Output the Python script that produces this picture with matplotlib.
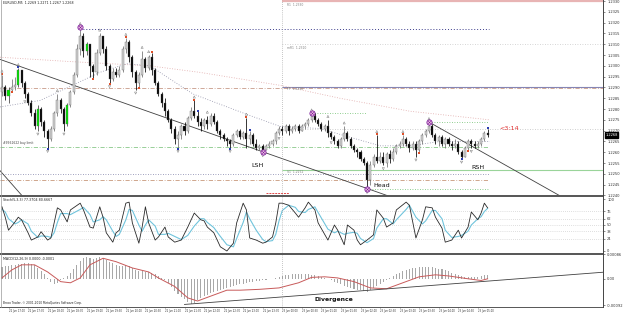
import numpy as np
import matplotlib.pyplot as plt
from matplotlib.lines import Line2D
from matplotlib.transforms import blended_transform_factory

# ---- EURUSD M5 candles ----
first_open = 1.2288
close = [1.2290, 1.2286, 1.2289, 1.2290, 1.2291, 1.2298, 1.2292, 1.2287, 1.2283, 1.2278,
         1.2272, 1.2280, 1.2274, 1.2270, 1.2266, 1.2271, 1.2278, 1.2284, 1.2280, 1.2273,
         1.2282, 1.2288, 1.2296, 1.2308, 1.2314, 1.2307, 1.2310, 1.2300, 1.2297, 1.2306,
         1.2314, 1.2308, 1.2300, 1.2294, 1.2297, 1.2296, 1.2298, 1.2308, 1.2311, 1.2304,
         1.2297, 1.2292, 1.2296, 1.2303, 1.2299, 1.2304, 1.2298, 1.2292, 1.2287, 1.2283,
         1.2279, 1.2275, 1.2271, 1.2266, 1.2268, 1.2272, 1.2270, 1.2276, 1.2279, 1.2277,
         1.2274, 1.2272, 1.2275, 1.2273, 1.2277, 1.2274, 1.2270, 1.2268, 1.2266, 1.2265,
         1.2264, 1.2268, 1.2270, 1.2267, 1.2269, 1.2266, 1.2268, 1.2264, 1.2262, 1.2263,
         1.2261, 1.2263, 1.2264, 1.2265, 1.2269, 1.2271, 1.2270, 1.2272, 1.2270, 1.2271,
         1.2272, 1.2270, 1.2272, 1.2273, 1.2275, 1.2277, 1.2275, 1.2273, 1.2271, 1.2272,
         1.2269, 1.2267, 1.2265, 1.2263, 1.2266, 1.2269, 1.2266, 1.2263, 1.2261, 1.2260,
         1.2257, 1.2255, 1.2247, 1.2254, 1.2258, 1.2256, 1.2258, 1.2255, 1.2259, 1.2257,
         1.2260, 1.2263, 1.2264, 1.2266, 1.2264, 1.2262, 1.2264, 1.2261, 1.2265, 1.2268,
         1.2270, 1.2272, 1.2268, 1.2265, 1.2267, 1.2264, 1.2266, 1.2264, 1.2263, 1.2264,
         1.2260, 1.2258, 1.2262, 1.2265, 1.2264, 1.2263, 1.2264, 1.2266, 1.2269, 1.2268]
high = [1.2296, 1.2291, 1.2290, 1.2294, 1.2295, 1.2299, 1.2298, 1.2293, 1.2288, 1.2284,
        1.2280, 1.2282, 1.2281, 1.2275, 1.2271, 1.2272, 1.2279, 1.2287, 1.2285, 1.2281,
        1.2283, 1.2289, 1.2297, 1.2310, 1.2318, 1.2315, 1.2311, 1.2310, 1.2301, 1.2308,
        1.2315, 1.2314, 1.2309, 1.2301, 1.2299, 1.2299, 1.2300, 1.2309, 1.2313, 1.2312,
        1.2305, 1.2298, 1.2297, 1.2307, 1.2304, 1.2305, 1.2306, 1.2299, 1.2293, 1.2288,
        1.2285, 1.2280, 1.2276, 1.2272, 1.2270, 1.2273, 1.2274, 1.2277, 1.2281, 1.2284,
        1.2279, 1.2276, 1.2276, 1.2277, 1.2278, 1.2278, 1.2275, 1.2271, 1.2269, 1.2267,
        1.2266, 1.2269, 1.2271, 1.2271, 1.2270, 1.2276, 1.2270, 1.2269, 1.2266, 1.2264,
        1.2264, 1.2264, 1.2265, 1.2266, 1.2270, 1.2272, 1.2272, 1.2273, 1.2273, 1.2272,
        1.2273, 1.2273, 1.2273, 1.2274, 1.2276, 1.2278, 1.2278, 1.2276, 1.2274, 1.2273,
        1.2275, 1.2270, 1.2268, 1.2266, 1.2267, 1.2272, 1.2270, 1.2267, 1.2264, 1.2262,
        1.2261, 1.2258, 1.2256, 1.2256, 1.2259, 1.2268, 1.2260, 1.2260, 1.2260, 1.2261,
        1.2262, 1.2264, 1.2265, 1.2268, 1.2267, 1.2265, 1.2265, 1.2265, 1.2266, 1.2269,
        1.2271, 1.2274, 1.2273, 1.2269, 1.2268, 1.2268, 1.2267, 1.2267, 1.2265, 1.2266,
        1.2265, 1.2261, 1.2263, 1.2266, 1.2266, 1.2265, 1.2265, 1.2267, 1.2270, 1.2271]
low = [1.2286, 1.2284, 1.2283, 1.2288, 1.2289, 1.2290, 1.2290, 1.2285, 1.2282, 1.2277,
       1.2271, 1.2270, 1.2272, 1.2267, 1.2262, 1.2265, 1.2270, 1.2277, 1.2278, 1.2270,
       1.2272, 1.2281, 1.2287, 1.2295, 1.2305, 1.2304, 1.2305, 1.2295, 1.2294, 1.2296,
       1.2305, 1.2306, 1.2298, 1.2292, 1.2293, 1.2295, 1.2295, 1.2297, 1.2306, 1.2302,
       1.2295, 1.2289, 1.2290, 1.2295, 1.2297, 1.2298, 1.2296, 1.2291, 1.2286, 1.2281,
       1.2277, 1.2274, 1.2269, 1.2264, 1.2262, 1.2266, 1.2268, 1.2269, 1.2275, 1.2276,
       1.2272, 1.2270, 1.2271, 1.2271, 1.2272, 1.2273, 1.2269, 1.2266, 1.2265, 1.2263,
       1.2262, 1.2263, 1.2267, 1.2266, 1.2266, 1.2262, 1.2264, 1.2263, 1.2261, 1.2261,
       1.2260, 1.2261, 1.2262, 1.2263, 1.2264, 1.2268, 1.2268, 1.2269, 1.2268, 1.2269,
       1.2270, 1.2269, 1.2270, 1.2271, 1.2272, 1.2274, 1.2274, 1.2272, 1.2270, 1.2270,
       1.2267, 1.2266, 1.2264, 1.2262, 1.2262, 1.2265, 1.2265, 1.2262, 1.2260, 1.2258,
       1.2256, 1.2254, 1.2243, 1.2245, 1.2253, 1.2255, 1.2255, 1.2254, 1.2253, 1.2255,
       1.2256, 1.2259, 1.2262, 1.2263, 1.2263, 1.2260, 1.2261, 1.2258, 1.2260, 1.2264,
       1.2267, 1.2269, 1.2267, 1.2264, 1.2263, 1.2263, 1.2262, 1.2263, 1.2261, 1.2262,
       1.2259, 1.2257, 1.2258, 1.2261, 1.2262, 1.2262, 1.2262, 1.2263, 1.2265, 1.2267]
green_bars = [2, 5, 11, 20, 26]

# zigzag turning points (purple circles)
zz_bars = [24, 80, 95, 112, 131]
zz_price = [1.2318, 1.2260, 1.2278, 1.2243, 1.2274]

# fractal arrows and coloured dots
frac_up = [0, 5, 17, 24, 30, 38, 43, 45, 59, 63, 75, 95, 100, 105, 115, 123, 131]
frac_dn = [7, 11, 14, 19, 33, 41, 54, 70, 80, 85, 101, 112, 117, 127, 141, 144]
red_up = [0, 38, 46, 59, 75, 115, 123]
blue_up = [5, 60, 76, 149]
red_dn = [3, 28, 33, 42, 128, 143]
blue_dn = [14, 54, 70, 141]

# moving averages drawn on the chart (read at a few points)
ma_slow_bar = [-0.6, 20.9, 45.4, 60.7, 85.3, 103.7, 125.2, 149.7]
ma_slow = [1.2304, 1.2302, 1.2300, 1.2297, 1.2291, 1.2285, 1.2279, 1.2275]
ma_mid_bar = [-0.6, 11.7, 23, 30, 38.3, 45.4, 52.5, 58.6, 63.8, 76.1, 85.3, 97.5,
              106.7, 116, 125.2, 134.4, 149.7]
ma_mid = [1.2281, 1.2284, 1.2292, 1.2297, 1.2301, 1.2300, 1.2293, 1.2287, 1.2284,
          1.2277, 1.2272, 1.2271, 1.2267, 1.2263, 1.2263, 1.2265, 1.2265]

# daily pivots
pivot_names = ['R1', 'mR1', 'PP', 'S1']
pivot_levels = [1.2330, 1.2310, 1.2290, 1.2252]
ms1_level = 1.2271

# Stochastic(5,3,3)
stoch_bar = [0, 1, 2, 4, 5, 6, 8, 9, 11, 12, 14, 15, 16, 17, 18, 20, 21, 24, 25, 27,
             28, 30, 31, 32, 34, 35, 36, 38, 39, 40, 42, 43, 44, 45, 47, 48, 50, 51, 53, 55,
             57, 59, 61, 62, 63, 65, 67, 69, 71, 72, 74, 75, 76, 78, 80, 81, 83, 84, 85, 86,
             88, 90, 91, 93, 94, 96, 97, 100, 102, 103, 105, 106, 108, 109, 110, 112, 114, 115, 117, 118,
             120, 121, 124, 125, 127, 129, 130, 132, 133, 135, 136, 138, 140, 141, 143, 144, 146, 147, 148, 149]
stoch_main = [85, 65, 40, 56, 65, 60, 35, 21, 27, 37, 21, 25, 54, 83, 79, 56, 79, 92, 79, 46,
              44, 85, 65, 35, 17, 35, 40, 92, 94, 54, 15, 46, 85, 54, 21, 27, 46, 27, 17, 21,
              46, 73, 60, 58, 46, 35, 8, 0, 15, 54, 92, 79, 25, 21, 15, 17, 27, 54, 92, 92,
              88, 73, 65, 83, 94, 79, 54, 21, 50, 40, 12, 50, 40, 21, 12, 21, 31, 79, 63, 46,
              54, 79, 94, 88, 25, 60, 85, 83, 65, 44, 17, 21, 40, 25, 46, 75, 60, 73, 92, 83]
stoch_signal = [80, 75, 62, 52, 55, 60, 52, 38, 26, 29, 28, 26, 35, 55, 72, 72, 70, 80, 84, 70,
                56, 60, 66, 60, 38, 28, 32, 60, 80, 78, 50, 38, 50, 60, 48, 32, 32, 34, 28, 22,
                30, 48, 62, 62, 55, 45, 28, 12, 8, 24, 55, 75, 62, 40, 22, 18, 20, 32, 58, 78,
                88, 84, 76, 74, 80, 85, 74, 42, 35, 38, 32, 34, 36, 34, 24, 16, 24, 44, 62, 62,
                52, 60, 80, 88, 65, 52, 58, 78, 78, 62, 40, 26, 28, 30, 38, 50, 62, 66, 76, 82]
stoch_levels = [23.6, 38.2, 50, 61.8, 76.4]

# MACD(12,26,9), in pips (1e-4)
macd_hist = [4.2, 4.4, 4.6, 4.8, 4.9, 5.1, 5.3, 5.5, 5.5, 5.3,
             4.8, 3.9, 2.8, 1.6, 0.4, -1.2, -2.0, -1.5, -0.6, 0.3,
             1.0, 2.2, 3.5, 5.0, 6.4, 7.3, 7.6, 7.4, 7.0, 7.3,
             7.5, 7.2, 6.6, 6.0, 5.4, 5.0, 4.6, 4.5, 4.8, 4.4,
             3.8, 3.0, 2.7, 2.6, 2.5, 2.3, 2.0, 1.6, 1.0, 0.4,
             -0.3, -1.5, -2.8, -4.2, -5.4, -6.3, -7.2, -8.2, -8.8, -8.4,
             -7.6, -6.9, -6.2, -5.6, -5.0, -4.6, -4.2, -3.9, -3.6, -3.2,
             -2.8, -2.5, -2.2, -2.0, -1.7, -1.5, -1.3, -1.1, -0.9, -0.8,
             -0.6, -0.4, -0.2, 0.1, 0.4, 0.8, 1.1, 1.3, 1.5, 1.6,
             1.6, 1.7, 1.8, 1.7, 1.6, 1.5, 1.3, 1.0, 0.7, 0.3,
             -0.1, -0.6, -1.0, -1.5, -2.0, -2.4, -2.8, -3.2, -3.5, -3.8,
             -4.0, -4.2, -4.5, -4.1, -3.4, -2.6, -1.9, -1.2, -0.6, 0.2,
             0.9, 1.6, 2.2, 2.7, 3.1, 3.5, 3.7, 3.9, 4.0, 4.1,
             4.1, 4.2, 4.0, 3.8, 3.6, 3.3, 3.0, 2.6, 2.2, 1.8,
             1.4, 1.0, 0.7, 0.5, 0.5, 0.6, 0.8, 1.0, 1.2, 1.4]
macd_sig_bar = [0, 3, 6, 10, 14, 18, 21, 24, 27, 31, 35, 40, 45, 48, 53, 57, 60, 64, 69, 73,
                79, 85, 91, 95, 99, 103, 108, 113, 118, 123, 128, 133, 137, 143, 147, 149]
macd_sig = [0.3, 3.1, 4.9, 4.9, 2.4, -1.0, -1.4, 0.3, 4.9, 7.2, 6.0, 3.8, 2.4, 0.3, -2.7, -6.7,
            -7.8, -6.1, -4.0, -4.0, -3.7, -3.2, -1.4, 0.5, 0.7, 0.3, -1.0, -3.2, -3.5, -1.4,
            0.7, 1.4, 1.0, 0.0, -0.6, 0.0]

price_ticks = [1.2330, 1.2325, 1.2320, 1.2315, 1.2310, 1.2305, 1.2300, 1.2295, 1.2290, 1.2285,
               1.2280, 1.2275, 1.2270, 1.2265, 1.2260, 1.2255, 1.2250, 1.2245, 1.2240]
time_labels = ['22 Jun 17:00', '22 Jun 17:30', '22 Jun 18:00', '22 Jun 18:30', '22 Jun 19:00',
               '22 Jun 19:30', '22 Jun 20:00', '22 Jun 20:30', '22 Jun 21:00', '22 Jun 21:30',
               '22 Jun 22:00', '22 Jun 22:30', '22 Jun 23:00', '22 Jun 23:30', '23 Jun 00:00',
               '23 Jun 00:30', '23 Jun 01:00', '23 Jun 01:30', '23 Jun 02:00', '23 Jun 02:30',
               '23 Jun 03:00', '23 Jun 03:30', '23 Jun 04:00', '23 Jun 04:30', '23 Jun 05:00']
day_start_bar = 86

# ---- figure ----
W, H = 625, 313
RIGHT = 603
BOTTOM = 307
fig = plt.figure(figsize=(W / 100, H / 100), dpi=100)
fig.patch.set_facecolor('white')


def panel(top, bottom):
    a = fig.add_axes([0, 1 - bottom / H, RIGHT / W, (bottom - top) / H])
    for s in a.spines.values():
        s.set_visible(False)
    a.set_xlim(-0.61, 184.4)
    a.yaxis.tick_right()
    a.tick_params(axis='y', length=1.5, width=0.4, pad=1.5, labelsize=2.6, colors='#333333')
    a.tick_params(axis='x', bottom=False, labelbottom=False)
    return a


ax = panel(0, 196)
ax_st = panel(196, 254)
ax_md = panel(254, BOTTOM)

dot = (0, (1, 2))
dashdot = (0, (5, 2, 1, 2))
n = len(close)
bars = np.arange(n)
c = np.array(close)
o = np.r_[first_open, c[:-1]]
hi = np.maximum(np.array(high), np.maximum(o, c))
lo = np.minimum(np.array(low), np.minimum(o, c))

# ---- main window ----
ax.set_ylim(1.223976, 1.23305)
ax.set_yticks(price_ticks)
ax.set_yticklabels(['%.4f' % p for p in price_ticks])

# pivots
ax.hlines(pivot_levels[0], day_start_bar, 184.4, color='#e8b4b4', lw=1.6)
ax.hlines(pivot_levels[1], day_start_bar, 184.4, color='#c8c8c8', lw=0.6, linestyles=dot)
ax.hlines(pivot_levels[2], day_start_bar, 184.4, color='#8585b5', lw=0.8)
ax.hlines(ms1_level, day_start_bar, 184.4, color='#c0c0c0', lw=0.6, linestyles=dot)
ax.hlines(pivot_levels[3], day_start_bar, 184.4, color='#9ad49a', lw=0.8)
for name, lvl, dy in zip(pivot_names, pivot_levels, [-0.00018, -0.00018, -0.00008, -0.00013]):
    ax.text(day_start_bar + 1.3, lvl + dy, '%s  %.4f' % (name, lvl), fontsize=2.2,
            color='#808080', va='center')

# other horizontal levels
ax.hlines(1.22897, -0.61, 184.4, color='#c89a88', lw=0.6, linestyles=dashdot)
ax.hlines(1.2317, 24, 149.5, color='#3c3c8c', lw=0.7, linestyles=dot)
ax.hlines(1.2278, 95, 112, color='#6cbf6c', lw=0.6, linestyles=dot)
ax.hlines(1.2274, 131, 149.5, color='#6cbf6c', lw=0.6, linestyles=dot)
ax.hlines(1.22625, -0.61, 149.5, color='#88c888', lw=0.6, linestyles=dashdot)
ax.text(0.3, 1.22635, '#9961622 buy limit', fontsize=2.2, color='#404040', va='bottom')
ax.hlines(1.2250, -0.61, 149.5, color='#8080a8', lw=0.6, linestyles=dot)
ax.hlines(1.2247, -0.61, 149.5, color='#c8987a', lw=0.6, linestyles=dashdot)
ax.hlines(1.2243, 112, 149.5, color='#6cbf6c', lw=0.6, linestyles=dot)
ax.hlines(1.2241, 81, 88, color='#e04848', lw=0.7, linestyles=(0, (2, 1)))

# moving averages
ax.plot(ma_slow_bar, ma_slow, color='#e0a8a8', lw=0.6, ls=dot)
ax.plot(ma_mid_bar, ma_mid, color='#9090a8', lw=0.6, ls=dot)

# trendlines
ax.plot([-0.61, 118.5], [1.2303, 1.22398], color='#404040', lw=0.6)
ax.plot([131, 171], [1.2274, 1.2240], color='#404040', lw=0.6)
ax.plot([-0.61, 6.1], [1.22515, 1.2240], color='#404040', lw=0.6)

# candles
body_col = []
wick_col = []
for i in range(n):
    if i in green_bars:
        body_col.append('#00e400')
        wick_col.append('#404040')
    elif c[i] >= o[i]:
        body_col.append('#d2d2d2')
        wick_col.append('#707070')
    else:
        body_col.append('#000000')
        wick_col.append('#000000')
ax.vlines(bars, lo, hi, colors=wick_col, lw=0.55, zorder=3)
ax.bar(bars, np.maximum(np.abs(c - o), 0.00003), bottom=np.minimum(o, c), width=0.62,
       color=body_col, edgecolor='#5a5a5a', linewidth=0.25, zorder=4)

# fractals and dots
ax.scatter(frac_up, hi[frac_up] + 0.00016, marker='^', s=2.5, facecolors='none',
           edgecolors='#808080', linewidths=0.35, zorder=5)
ax.scatter(frac_dn, lo[frac_dn] - 0.00016, marker='v', s=2.5, facecolors='none',
           edgecolors='#808080', linewidths=0.35, zorder=5)
ax.scatter(red_up, hi[red_up] + 0.00003, marker='s', s=1.2, color='#e0502a', lw=0, zorder=5)
ax.scatter(blue_up, hi[blue_up] + 0.00003, marker='s', s=1.2, color='#2a3cb0', lw=0, zorder=5)
ax.scatter(red_dn, lo[red_dn] - 0.00003, marker='s', s=1.2, color='#e0502a', lw=0, zorder=5)
ax.scatter(blue_dn, lo[blue_dn] - 0.00003, marker='s', s=1.2, color='#2a3cb0', lw=0, zorder=5)
ax.scatter(zz_bars, zz_price, s=14, facecolors='#f4c6e4', edgecolors='#7a1a9a', linewidths=0.6, zorder=6)
ax.scatter(zz_bars, zz_price, s=5, marker='x', color='#7a1a9a', linewidths=0.4, zorder=7)

# pattern labels
ax.text(78.5, 1.22538, 'LSH', fontsize=4.6, ha='center', va='center', color='#111111')
ax.text(116.6, 1.22445, 'Head', fontsize=4.6, ha='center', va='center', color='#111111')
ax.text(146, 1.2253, 'RSH', fontsize=4.6, ha='center', va='center', color='#111111')
ax.text(152.5, 1.22709, '<3:14', fontsize=4.6, ha='left', va='center', color='#e03030')
ax.text(0.005, 0.993, 'EURUSD,M5  1.2269 1.2271 1.2267 1.2268', transform=ax.transAxes,
        fontsize=2.3, va='top', color='#202020')

# current price box
tr = blended_transform_factory(ax.transAxes, ax.transData)
ax.text(1.004, c[-1], '%.4f' % c[-1], transform=tr, fontsize=2.6, color='white',
        va='center', ha='left', clip_on=False,
        bbox=dict(boxstyle='square,pad=0.15', fc='black', ec='black'))

# ---- stochastic ----
ax_st.set_ylim(-5.8, 105.8)
ax_st.set_yticks([0] + stoch_levels + [100])
ax_st.set_yticklabels(['0', '24', '38', '50', '62', '76', '100'])
ax_st.hlines(stoch_levels, -0.61, 184.4, color='#c0c0c0', lw=0.5, linestyles=dot)
ax_st.plot(stoch_bar, stoch_signal, color='#70c4dc', lw=0.8)
ax_st.plot(stoch_bar, stoch_main, color='#2a2a2a', lw=0.6)
ax_st.text(0.005, 0.96, 'Stoch(5,3,3) 77.3704 80.6667', transform=ax_st.transAxes,
           fontsize=2.3, va='top', color='#202020')

# ---- MACD ----
ax_md.set_ylim(-0.00099, 0.00087)
ax_md.set_yticks([-0.00092, 0.0, 0.00086])
ax_md.set_yticklabels(['-0.00092', '0.00', '0.00086'])
ax_md.bar(bars, np.array(macd_hist) * 1e-4, width=0.32, color='#a8a8a8', lw=0)
ax_md.plot(macd_sig_bar, np.array(macd_sig) * 1e-4, color='#c85a5a', lw=0.7)
ax_md.plot([56, 184.4], [-0.00090, 0.00023], color='#404040', lw=0.6)
ax_md.text(96, -0.00072, 'Divergence', fontsize=4.4, fontweight='bold', va='center',
           color='#111111')
ax_md.text(0.005, 0.95, 'MACD(12,26,9) 0.0000 -0.0001', transform=ax_md.transAxes,
           fontsize=2.3, va='top', color='#202020')
ax_md.text(0.005, 0.04, 'Broco Trader, \u00a9 2001-2010 MetaQuotes Software Corp.',
           transform=ax_md.transAxes, fontsize=2.1, va='bottom', color='#202020')

time_bars = list(range(2, 150, 6))
ax_md.set_xticks(time_bars)
ax_md.set_xticklabels(time_labels)
ax_md.tick_params(axis='x', bottom=True, labelbottom=True, length=1.0, width=0.4,
                  labelsize=1.8, pad=0.4, colors='#333333')
for t in ax_md.get_xticklabels():
    t.set_ha('left')

# day separator through all windows
for a in (ax, ax_st, ax_md):
    a.axvline(day_start_bar, color='#909090', lw=0.5, ls=dot)

# frames
fx = RIGHT / W
for ypx, lw in [(196, 1.4), (254, 1.4), (BOTTOM, 0.7)]:
    fig.add_artist(Line2D([0, fx], [1 - ypx / H] * 2, color='#555555', lw=lw))
fig.add_artist(Line2D([fx, fx], [1 - BOTTOM / H, 1], color='#444444', lw=0.7))
fig.add_artist(Line2D([0.0008, 0.0008], [1 - BOTTOM / H, 1], color='#999999', lw=0.5))

fig.savefig('out.png', dpi=100)
